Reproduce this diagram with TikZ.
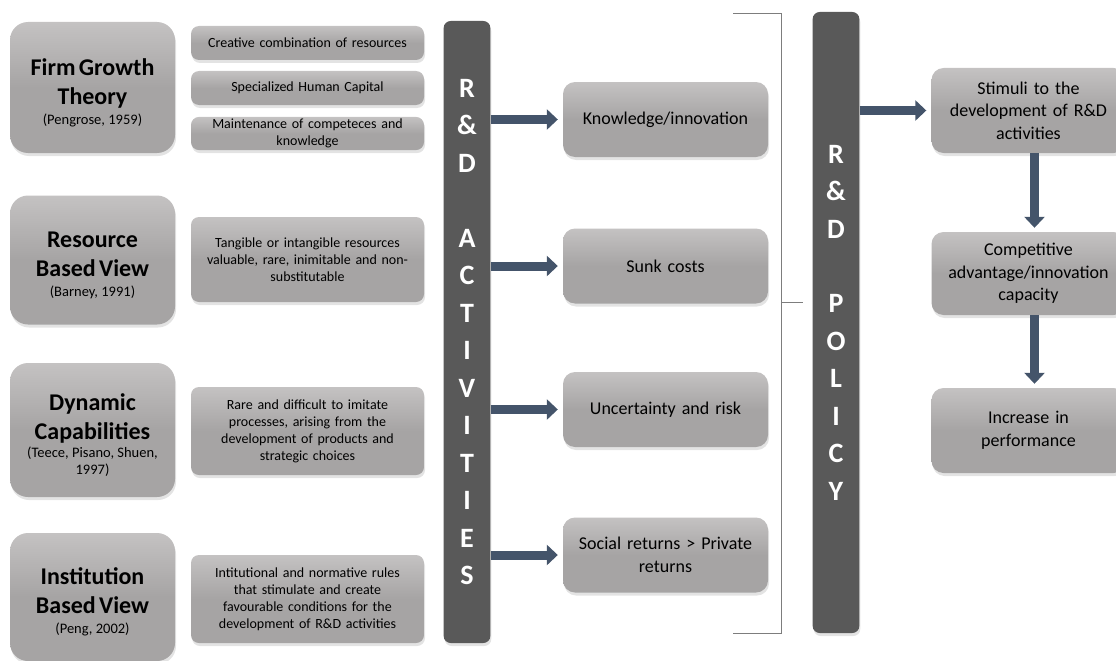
\documentclass[tikz,border=0pt]{standalone}
\usepackage{fontspec}
\setmainfont{Carlito}
\usetikzlibrary{arrows.meta,shadows}

\definecolor{boxfill}{RGB}{166,164,164}
\definecolor{boxtop}{RGB}{196,194,194}
\definecolor{barfill}{RGB}{89,89,89}
\definecolor{arrowblue}{RGB}{68,84,106}
\definecolor{bracketgray}{RGB}{125,125,125}

\newcommand{\titlestrut}{\rule{0pt}{27pt}}

\begin{document}
\begin{tikzpicture}[x=1pt, y=-1pt,
    boxbase/.style={top color=boxtop, bottom color=boxfill, middle color=boxfill,
      drop shadow={shadow xshift=1pt, shadow yshift=-3pt, opacity=0.22},
      align=center, inner sep=2pt},
    theorybox/.style={boxbase, rounded corners=18, minimum width=165, text width=160},
    notebox/.style={boxbase, rounded corners=8, minimum width=233, text width=228,
      font=\fontsize{14}{17}\selectfont},
    effectbox/.style={boxbase, rounded corners=12, minimum width=205, minimum height=75,
      text width=200, font=\fontsize{18}{23}\selectfont},
    outcomebox/.style={boxbase, rounded corners=12, minimum width=193, text width=190,
      font=\fontsize{18}{22.5}\selectfont},
    barbox/.style={fill=barfill, rounded corners=7, text=white, align=center, text width=40,
      drop shadow={shadow xshift=1pt, shadow yshift=-3pt, opacity=0.22},
      font=\fontsize{28}{37.5}\selectfont\bfseries},
    flow/.style={-{Triangle[length=11pt,width=20pt]}, line width=9pt, draw=arrowblue},
    bracketline/.style={draw=bracketgray, line width=0.9pt}]

  \useasboundingbox (0,0) rectangle (1116,661);

  \node[theorybox, minimum height=131] (fgt) at (92.5,87.5)
    {{\bfseries\fontsize{24}{29}\selectfont\titlestrut Firm Growth\\Theory\par}\vspace{3pt}
     {\fontsize{14.5}{17}\selectfont (Pengrose, 1959)\par}};
  \node[theorybox, minimum height=129] (rbv) at (92.5,260)
    {{\bfseries\fontsize{24}{29}\selectfont\titlestrut Resource\\Based View\par}\vspace{3pt}
     {\fontsize{14.5}{17}\selectfont (Barney, 1991)\par}};
  \node[theorybox, minimum height=134] (dc) at (92.5,430)
    {{\bfseries\fontsize{24}{29}\selectfont\titlestrut Dynamic\\Capabilities\par}\vspace{1pt}
     {\fontsize{14.5}{17}\selectfont (Teece, Pisano, Shuen,\\1997)\par}};
  \node[theorybox, minimum height=128] (ibv) at (92.5,597)
    {{\bfseries\fontsize{24}{29}\selectfont\titlestrut Institution\\Based View\par}\vspace{3pt}
     {\fontsize{14.5}{17}\selectfont (Peng, 2002)\par}};

  \node[notebox, minimum height=34] (crea) at (307.5,43) {Creative combination of resources};
  \node[notebox, minimum height=34] (spec) at (307.5,88) {Specialized Human Capital};
  \node[notebox, minimum height=33] (main) at (307.5,133.5) {Maintenance of competeces and\\knowledge};
  \node[notebox, minimum height=85] (tang) at (307.5,259.5)
    {Tangible or intangible resources\\valuable, rare, inimitable and non-\\substitutable};
  \node[notebox, minimum height=88] (rare) at (307.5,431)
    {Rare and difficult to imitate\\processes, arising from the\\development of products and\\strategic choices};
  \node[notebox, minimum height=88] (inst) at (307.5,599)
    {Intitutional and normative rules\\that stimulate and create\\favourable conditions for the\\development of R\&D activities};

  \node[barbox, minimum width=46, minimum height=622] (act) at (467,332)
    {R\\\&\\D\\[37.5pt]A\\C\\T\\I\\V\\I\\T\\I\\E\\S};
  \node[barbox, minimum width=44, minimum height=621] (pol) at (836,322.5)
    {R\\\&\\D\\[37pt]P\\O\\L\\I\\C\\Y};

  \node[effectbox] (know) at (665.5,119.5) {Knowledge/innovation};
  \node[effectbox] (sunk) at (665.5,266) {Sunk costs};
  \node[effectbox] (unc) at (665.5,409.5) {Uncertainty and risk};
  \node[effectbox] (soc) at (665.5,555) {Social returns > Private\\returns};

  \node[outcomebox, minimum height=85] (stim) at (1028.5,110.5) {Stimuli to the\\development of R\&D\\activities};
  \node[outcomebox, minimum height=83] (comp) at (1028.5,273.5) {Competitive\\advantage/innovation\\capacity};
  \node[outcomebox, minimum height=85] (incr) at (1028.5,430.5) {Increase in\\performance};

  \foreach \eff in {know, sunk, unc, soc} {
    \draw[flow] (act.east |- \eff.west) -- ([xshift=-5]\eff.west);
  }
  \draw[flow] (pol.east |- stim.west) -- ([xshift=-5]stim.west);
  \draw[flow] ([xshift=6]stim.south) -- ([xshift=6,yshift=4]comp.north);
  \draw[flow] ([xshift=6]comp.south) -- ([xshift=6,yshift=4]incr.north);

  \coordinate (brtop) at (733,13);
  \coordinate (brbot) at (733,633);
  \coordinate (brtip) at (803,302);
  \draw[bracketline] (brtop) -- (781,13) -- (781,633) -- (brbot);
  \draw[bracketline] (781,302) -- (brtip);
\end{tikzpicture}
\end{document}
